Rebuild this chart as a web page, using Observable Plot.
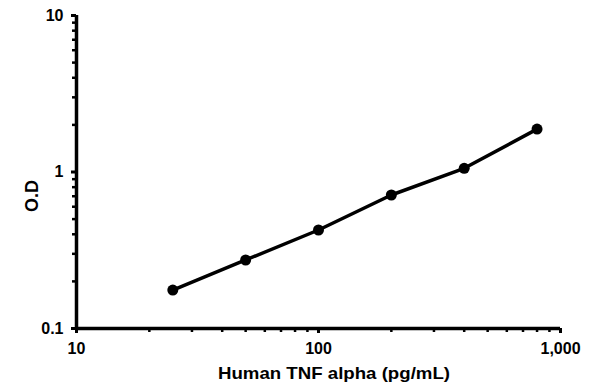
<!DOCTYPE html>
<html>
<head>
<meta charset="utf-8">
<script src="https://cdn.jsdelivr.net/npm/d3@7"></script>
<script src="https://cdn.jsdelivr.net/npm/@observablehq/plot@0.6"></script>
<style>
  html, body { margin: 0; padding: 0; background: #fff; }
  svg { font-family: "Liberation Sans", Arial, sans-serif; }
</style>
</head>
<body>
<div id="chart"></div>
<script>
const concentration = [25, 50, 100, 200, 400, 800];
const od = [0.176, 0.274, 0.426, 0.713, 1.056, 1.88];

const xMajorTicks = [10, 100, 1000];
const xTickLabels = ["10", "100", "1,000"];
const xMinorTicks = [20, 30, 40, 50, 60, 70, 80, 90, 200, 300, 400, 500, 600, 700, 800, 900];
const yMajorTicks = [0.1, 1, 10];
const yTickLabels = ["0.1", "1", "10"];
const yMinorTicks = [0.2, 0.3, 0.4, 0.5, 0.6, 0.7, 0.8, 0.9, 2, 3, 4, 5, 6, 7, 8, 9];

const xLabel = "Human TNF alpha (pg/mL)";
const yLabel = "O.D";

const data = concentration.map((c, i) => ({c, v: od[i]}));

const chart = Plot.plot({
  width: 595,
  height: 391,
  marginLeft: 76,
  marginRight: 35,
  marginTop: 15,
  marginBottom: 63,
  style: {fontFamily: '"Liberation Sans", Arial, sans-serif', background: "#fff", color: "#000"},
  x: {type: "log", domain: [10, 1000]},
  y: {type: "log", domain: [0.1, 10]},
  marks: [
    Plot.axisX(xMinorTicks, {anchor: "bottom", tickSize: 4, tickFormat: () => "", label: null, stroke: "#000", strokeWidth: 2.5}),
    Plot.axisX(xMajorTicks, {anchor: "bottom", tickSize: 5, tickPadding: 9,
      tickFormat: d => xTickLabels[xMajorTicks.indexOf(d)], label: null,
      stroke: "#000", strokeWidth: 3, fontSize: 16, fontWeight: "bold", fill: "#000"}),
    Plot.axisY(yMinorTicks, {anchor: "left", tickSize: 4, tickFormat: () => "", label: null, stroke: "#000", strokeWidth: 2.5}),
    Plot.axisY(yMajorTicks, {anchor: "left", tickSize: 5, tickPadding: 8,
      tickFormat: d => yTickLabels[yMajorTicks.indexOf(d)], label: null,
      stroke: "#000", strokeWidth: 3, fontSize: 16, fontWeight: "bold", fill: "#000"}),
    Plot.ruleY([0.1], {stroke: "#000", strokeWidth: 3.5}),
    Plot.ruleX([10], {stroke: "#000", strokeWidth: 3.5}),
    Plot.line(data, {x: "c", y: "v", stroke: "#000", strokeWidth: 3.5}),
    Plot.dot(data, {x: "c", y: "v", r: 5.5, fill: "#000", stroke: "none"})
  ]
});

const svg = d3.select(chart);
svg.append("text")
  .attr("x", 218).attr("y", 379)
  .attr("text-anchor", "start")
  .attr("font-size", 17).attr("font-weight", "bold").attr("fill", "#000")
  .attr("textLength", 232).attr("lengthAdjust", "spacingAndGlyphs")
  .text(xLabel);
svg.append("text")
  .attr("transform", "translate(38,196) rotate(-90)")
  .attr("text-anchor", "middle")
  .attr("font-size", 18).attr("font-weight", "bold").attr("fill", "#000")
  .text(yLabel);

document.getElementById("chart").appendChild(chart);
</script>
</body>
</html>
